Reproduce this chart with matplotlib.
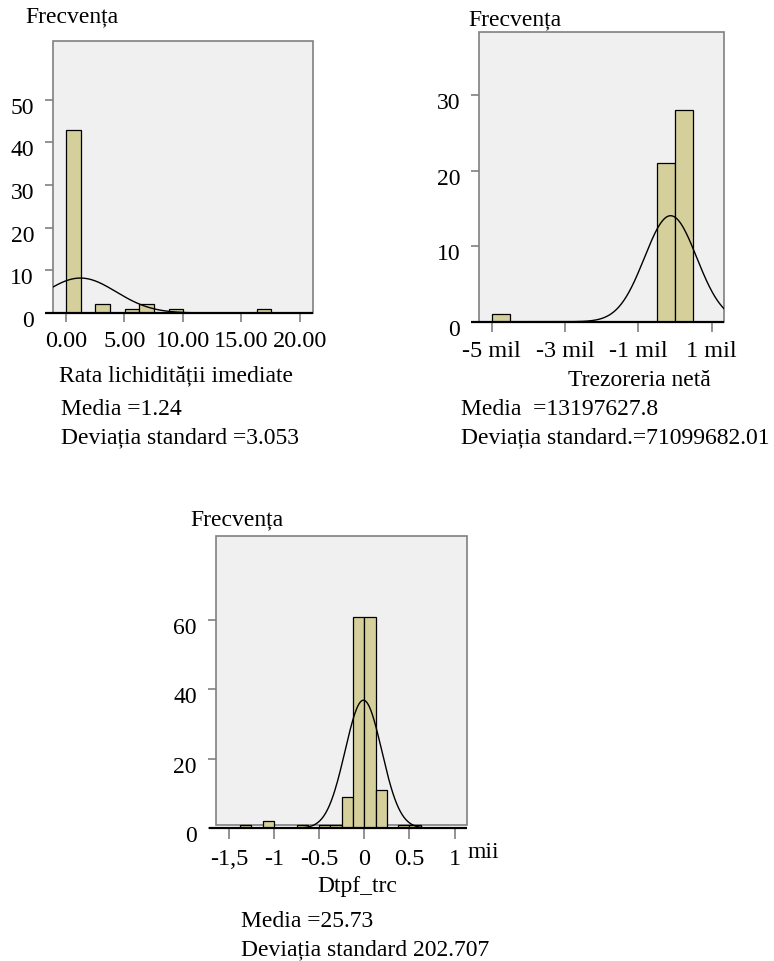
import numpy as np
import matplotlib
matplotlib.use("Agg")
import matplotlib.pyplot as plt
from matplotlib.patches import Rectangle
from matplotlib.transforms import ScaledTranslation

# ---------------- data ----------------
# Panel 1: Rata lichidității imediate
p1_bin_width = 1.255
p1_bin_index = [0, 2, 4, 5, 7, 13]
p1_counts = [43, 2, 1, 2, 1, 1]
p1_mean, p1_sd, p1_n = 1.24, 3.053, 50
p1_xticks = [0, 5, 10, 15, 20]
p1_xticklabels = ["0.00", "5.00", "10.00", "15.00", "20.00"]
p1_yticks = [0, 10, 20, 30, 40, 50]

# Panel 2: Trezoreria netă (axis units as labelled)
p2_bin_width = 0.5
p2_bin_left = [-5.0, -0.5, 0.0]
p2_counts = [1, 21, 28]
p2_curve_mean, p2_curve_sd, p2_n = -0.12, 0.711, 50
p2_xticks = [-5, -3, -1, 1]
p2_xticklabels = ["-5 mil", "-3 mil", "-1 mil", "1 mil"]
p2_yticks = [0, 10, 20, 30]

# Panel 3: Dtpf_trc (thousands)
p3_bin_width = 0.125
p3_bin_index = [-11, -9, -6, -4, -3, -2, -1, 0, 1, 3, 4]
p3_counts = [1, 2, 1, 1, 1, 9, 61, 61, 11, 1, 1]
p3_curve_mean, p3_curve_sd, p3_n = -0.01, 0.2027, 150
p3_xticks = [-1.5, -1, -0.5, 0, 0.5, 1]
p3_xticklabels = ["-1,5", "-1", "-0.5", "0", "0.5", "1"]
p3_yticks = [0, 20, 40, 60]

# ---------------- style ----------------
W, H = 774, 962
DPI = 100
BAR = "#d4cf9b"
BG = "#f0f0f0"
BOX = "#808080"
FONT = "Liberation Serif"
FS = 17
TFS = 17.5
plt.rcParams["font.family"] = [FONT, "DejaVu Serif"]

fig = plt.figure(figsize=(W / DPI, H / DPI), dpi=DPI)
fig.patch.set_facecolor("white")


def px(v):
    return v * 72.0 / DPI


def make_ax(left, right, top, bottom):
    return fig.add_axes([left / W, 1 - bottom / H, (right - left) / W, (bottom - top) / H])


def ftext(x, y, s, **kw):
    fig.text(x / W, 1 - y / H, s, va="center", ha="left", fontsize=FS, family=FONT, **kw)


def style(ax, xl, xr, ytop, box_bottom, xticks, xlabels, yticks, xtick_len, xpad, ext_px):
    ax.set_xlim(xl, xr)
    ax.set_ylim(0, ytop)
    ax.set_facecolor("none")
    for s in ax.spines.values():
        s.set_visible(False)
    ax.add_patch(Rectangle((xl, box_bottom), xr - xl, ytop - box_bottom, facecolor=BG,
                           edgecolor=BOX, lw=1.2, zorder=0, clip_on=False))
    ax.set_xticks(xticks)
    ax.set_xticklabels(xlabels)
    ax.set_yticks(yticks)
    ax.tick_params(axis="x", direction="out", length=px(xtick_len), width=1.2, color=BOX,
                   labelsize=TFS, pad=px(xpad))
    ax.tick_params(axis="y", direction="out", length=px(8), width=1.2, color=BOX,
                   labelsize=FS, pad=px(11))
    for lab in ax.get_yticklabels():
        lab.set_transform(lab.get_transform() + ScaledTranslation(0, -5 / DPI, fig.dpi_scale_trans))
    # baseline extends left by the tick length
    bbox_w = ax.get_position().width * W
    ext = ext_px * (xr - xl) / bbox_w
    ax.plot([xl - ext, xr], [0, 0], color="black", lw=1.6, clip_on=False, zorder=5,
            solid_capstyle="butt")


def normal_curve(ax, xl, xr, mean, sd, n, bw):
    x = np.linspace(xl, xr, 400)
    y = n * bw / (sd * np.sqrt(2 * np.pi)) * np.exp(-0.5 * ((x - mean) / sd) ** 2)
    ax.plot(x, y, color="black", lw=1.0, zorder=4)


# ---------------- panel 1 ----------------
ax1 = make_ax(53, 313, 42, 314)
x1l, x1r, y1t = -1.11, 21.15, 63.8
style(ax1, x1l, x1r, y1t, 0, p1_xticks, p1_xticklabels, p1_yticks, 9, 8, 8)
ax1.bar([i * p1_bin_width for i in p1_bin_index], p1_counts, width=p1_bin_width, align="edge",
        color=BAR, edgecolor="black", lw=0.9, zorder=2)
normal_curve(ax1, x1l, x1r, p1_mean, p1_sd, p1_n, p1_bin_width)
ftext(25, 17, "Frecvența")
ftext(59, 376, "Rata lichidității imediate")
ftext(61, 410, "Media =1.24")
ftext(61, 438, "Deviația standard =3.053")

# ---------------- panel 2 ----------------
ax2 = make_ax(479.3, 724, 33.3, 322.7)
x2l, x2r, y2t = -5.336, 1.336, 38.3
style(ax2, x2l, x2r, y2t, 0, p2_xticks, p2_xticklabels, p2_yticks, 10, 8.5, 8.5)
ax2.bar(p2_bin_left, p2_counts, width=p2_bin_width, align="edge",
        color=BAR, edgecolor="black", lw=0.9, zorder=2)
normal_curve(ax2, x2l, x2r, p2_curve_mean, p2_curve_sd, p2_n, p2_bin_width)
ftext(468, 20, "Frecvența")
ftext(568, 380, "Trezoreria netă")
ftext(461, 410, "Media  =13197627.8")
ftext(461, 438, "Deviația standard.=71099682.01")

# ---------------- panel 3 ----------------
ax3 = make_ax(216, 467.3, 536.7, 829.3)
x3l, x3r, y3t = -1.642, 1.140, 84.3
style(ax3, x3l, x3r, y3t, 1.06, p3_xticks, p3_xticklabels, p3_yticks, 11, 8.5, 7)
ax3.bar([i * p3_bin_width for i in p3_bin_index], p3_counts, width=p3_bin_width, align="edge",
        color=BAR, edgecolor="black", lw=0.9, zorder=2)
normal_curve(ax3, x3l, x3r, p3_curve_mean, p3_curve_sd, p3_n, p3_bin_width)
ftext(190, 520, "Frecvența")
ftext(468, 852, "mii")
ftext(317, 887, "Dtpf_trc")
ftext(241, 922, "Media =25.73")
ftext(241, 950, "Deviația standard 202.707")

fig.savefig("out.png", dpi=DPI, facecolor="white")
